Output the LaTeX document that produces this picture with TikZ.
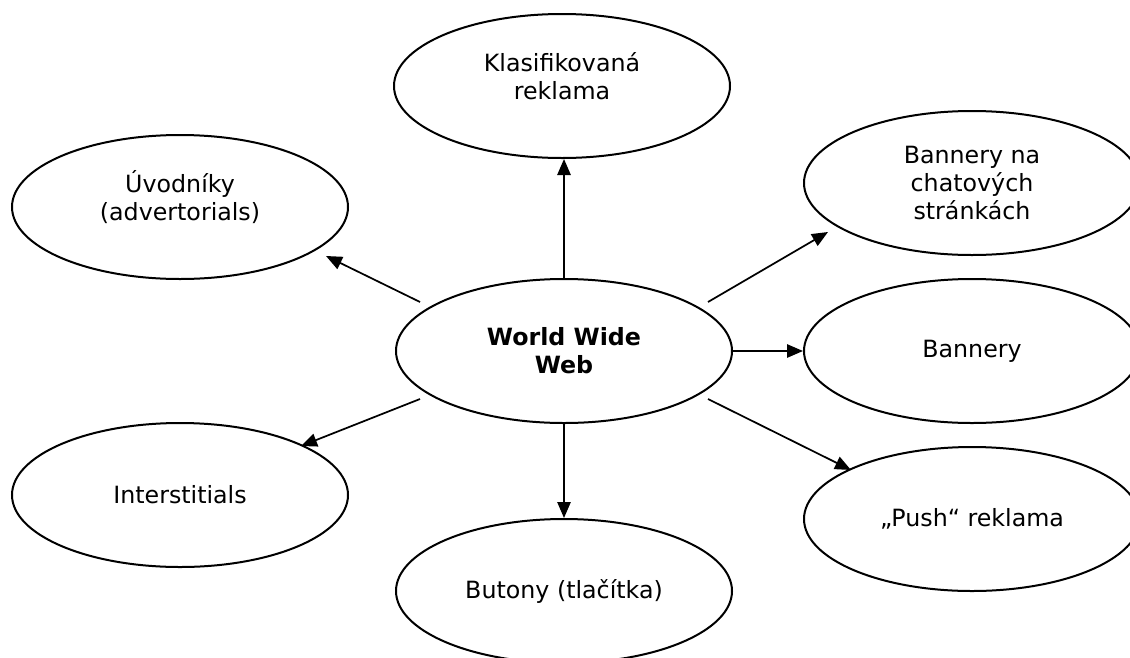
\documentclass[tikz,border=0pt]{standalone}
\usepackage{fontspec}
\setmainfont{DejaVu Sans}
\usetikzlibrary{shapes.geometric,arrows.meta}
\begin{document}
\begin{tikzpicture}[x=0.75pt,y=-0.75pt,
  oval/.style={ellipse,draw,line width=1.5pt,minimum width=252pt,minimum height=108pt,inner sep=0pt,align=center,font=\fontsize{17.8}{21}\selectfont},
  txt/.style={align=center,font=\fontsize{17.8}{21}\selectfont},
  arr/.style={line width=1.3pt,-{Triangle[length=12pt,width=10pt]}}]
\useasboundingbox (0,0) rectangle (1130,657);
\clip (0,0) rectangle (1130,657);
\node[oval] (www) at (564,351) {\textbf{World Wide}\\\textbf{Web}};
\node[oval,label={[txt,yshift=7.5pt]center:Klasifikovaná\\reklama}] (k) at (562,86) {};
\node[oval,label={[txt,yshift=7.5pt]center:Úvodníky\\(advertorials)}] (u) at (180,207) {};
\node[oval] (bc) at (972,183) {Bannery na\\chatových\\stránkách};
\node[oval] (b) at (972,351) {Bannery};
\node[oval] (i) at (180,495) {Interstitials};
\node[oval] (p) at (972,519) {„Push“ reklama};
\node[oval] (bt) at (564,591) {Butony (tlačítka)};
\coordinate (su) at (420,302);
\coordinate (eu) at (326,256);
\coordinate (sbc) at (708,302);
\coordinate (ebc) at (828,232);
\coordinate (sp) at (708,399);
\coordinate (ep) at (851,470);
\coordinate (si) at (420,399);
\coordinate (ei) at (301,446);
\draw[arr] (www.north) -- (www.north |- k.south);
\draw[arr] (www.south) -- (bt.north);
\draw[arr] (www.east) -- (b.west);
\draw[arr] (su) -- (eu);
\draw[arr] (sbc) -- (ebc);
\draw[arr] (sp) -- (ep);
\draw[arr] (si) -- (ei);
\end{tikzpicture}
\end{document}
